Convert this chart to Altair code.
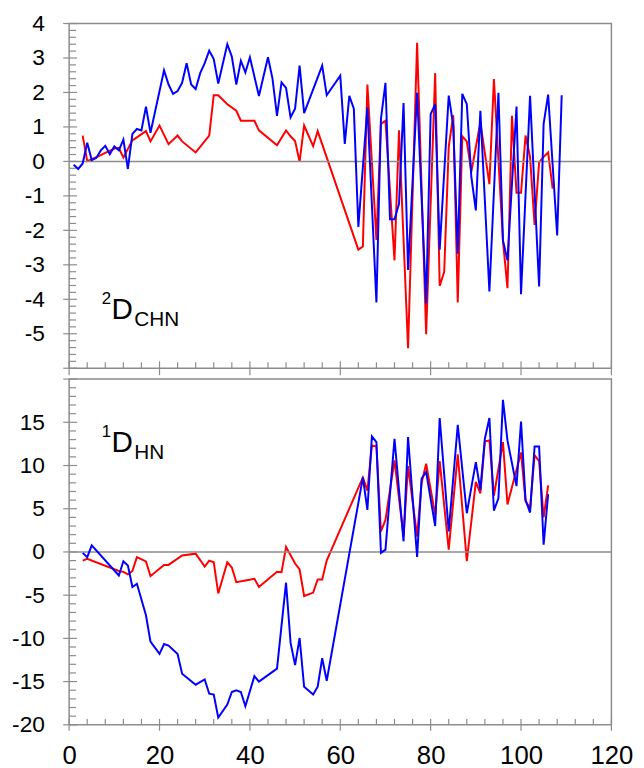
import altair as alt
import pandas as pd

# ---------------- data ----------------
top_blue_x = [1, 2, 3, 4, 5, 6, 7, 8, 9, 10, 11, 12, 13, 14, 15, 16, 17, 18, 21, 22, 23, 24, 25, 26, 27, 28, 29,
              30, 31, 32, 33, 35, 36, 37, 38, 39, 40, 42, 44, 45, 46, 47, 48, 49, 50, 51, 52, 56, 57, 60, 61, 62,
              63, 64, 66, 68, 69, 70, 71, 72, 73, 74, 75, 77, 79, 80, 81, 82, 84, 85, 86, 87, 88, 89, 90, 91, 93,
              95, 96, 97, 99, 100, 102, 104, 105, 106, 108, 109]
top_blue_y = [-0.10, -0.22, -0.06, 0.54, 0.04, 0.10, 0.32, 0.45, 0.21, 0.44, 0.32, 0.63, -0.22, 0.80, 0.94, 0.90,
              1.59, 0.83, 2.64, 2.23, 1.96, 2.04, 2.28, 2.85, 2.23, 2.10, 2.56, 2.85, 3.21, 2.97, 2.26, 3.40, 3.04,
              2.23, 2.92, 2.58, 3.02, 1.90, 3.02, 2.40, 1.32, 2.29, 2.13, 1.28, 1.53, 2.78, 1.40, 2.78, 1.92, 2.49,
              0.51, 1.90, 1.53, -1.90, 1.56, -4.09, 1.23, 2.28, -1.68, -1.68, -1.23, 1.69, -3.15, 1.99, -4.12, 1.37,
              1.66, -2.56, 1.91, 1.04, -2.68, 1.96, 1.66, -0.44, -1.42, 1.47, -3.77, 1.99, -2.29, -2.87, 1.59,
              -3.85, 1.90, -3.63, 1.09, 1.94, -2.15, 1.92]

top_red_x = [3, 4, 6, 8, 10, 11, 12, 14, 17, 18, 20, 22, 24, 25, 28, 31, 32, 33, 35, 37, 38, 41, 42, 46, 48, 49,
             50, 51, 52, 54, 55, 64, 65, 66, 68, 69, 70, 72, 73, 75, 77, 79, 81, 82, 83, 84, 85, 86, 87, 88, 89,
             91, 93, 94, 96, 97, 98, 99, 100, 101, 102, 103, 104, 105, 106, 107]
top_red_y = [0.75, 0.01, 0.12, 0.25, 0.37, 0.39, 0.11, 0.61, 0.88, 0.58, 1.04, 0.50, 0.75, 0.58, 0.26, 0.75, 1.92,
             1.92, 1.66, 1.47, 1.18, 1.18, 0.90, 0.47, 0.90, 0.73, 0.59, -0.01, 1.04, 0.44, 0.88, -2.56, -2.47,
             2.23, -2.28, 1.09, 1.18, -2.87, 0.90, -5.42, 3.44, -5.01, 2.56, -3.61, -3.20, 0.42, 1.34, -4.09, 0.73,
             0.58, -0.30, 1.13, -0.66, 2.39, -2.30, -3.68, 1.32, -0.91, -0.91, 0.75, 0.13, -1.84, -0.03, 0.13,
             0.26, -0.79]

bot_blue_x = [3, 4, 5, 11, 12, 13, 14, 15, 17, 18, 20, 21, 22, 24, 25, 28, 30, 31, 32, 33, 35, 36, 37, 38, 39,
              41, 42, 46, 48, 49, 50, 51, 52, 54, 55, 56, 57, 65, 66, 67, 68, 69, 70, 72, 74, 75, 77, 78, 79, 81,
              82, 84, 86, 88, 90, 91, 92, 93, 94, 95, 96, 97, 99, 100, 101, 102, 103, 104, 105, 106]
bot_blue_y = [-0.11, -0.61, 0.77, -2.72, -1.07, -1.57, -4.06, -3.68, -7.32, -10.38, -11.80, -10.65, -10.84,
              -11.80, -14.10, -15.36, -14.75, -16.40, -16.50, -19.16, -17.67, -16.20, -16.00, -16.20, -17.85,
              -14.37, -15.00, -13.50, -3.56, -10.50, -13.10, -9.96, -15.60, -16.50, -15.60, -12.30, -14.90, 8.62,
              4.86, 13.37, 12.70, -0.11, 0.27, 13.10, 1.23, 13.30, -0.57, 8.50, 9.27, 3.00, 15.50, 2.38, 14.70,
              4.48, 10.40, 7.16, 13.10, 15.50, 4.79, 6.20, 17.60, 12.90, 7.62, 15.10, 6.00, 4.56, 12.20, 12.20,
              0.84, 6.70]

bot_red_x = [3, 4, 11, 12, 13, 14, 15, 17, 18, 21, 22, 25, 28, 30, 31, 32, 33, 35, 36, 37, 39, 41, 42, 46, 47,
             48, 50, 51, 52, 54, 55, 56, 57, 65, 66, 67, 68, 69, 70, 72, 74, 75, 77, 78, 79, 81, 82, 84, 86, 88,
             90, 91, 92, 93, 94, 96, 97, 99, 100, 101, 102, 103, 104, 105, 106]
bot_red_y = [-1.00, -0.80, -2.20, -2.30, -2.60, -2.20, -0.60, -1.10, -2.80, -1.50, -1.50, -0.40, -0.20, -1.70,
             -1.00, -1.20, -4.80, -1.20, -1.80, -3.50, -3.30, -3.10, -4.06, -2.30, -2.34, 0.57, -1.34, -2.03,
             -5.10, -4.70, -3.18, -3.18, -1.00, 8.62, 7.09, 12.33, 12.20, 2.38, 3.71, 10.60, 1.80, 9.92, 1.80,
             8.00, 10.20, 4.30, 10.50, 0.27, 11.30, -1.07, 8.10, 6.78, 12.80, 12.90, 6.50, 12.70, 5.50, 9.50,
             11.50, 5.90, 5.06, 11.20, 10.50, 4.00, 7.70]

x_major = [0, 20, 40, 60, 80, 100, 120]
x_minor = [v for v in range(0, 121, 4) if v % 20]
top_y_labels = [-5, -4, -3, -2, -1, 0, 1, 2, 3, 4]
top_y_major = [-6, -5, -4, -3, -2, -1, 0, 1, 2, 3, 4]
top_y_minor = [round(-6 + 0.2 * i, 1) for i in range(51) if i % 5]
bot_y_labels = [-20, -15, -10, -5, 0, 5, 10, 15]
bot_y_major = [-20, -15, -10, -5, 0, 5, 10, 15, 20]
bot_y_minor = [v for v in range(-20, 21) if v % 5]

# ---------------- styling ----------------
W = 549
H_TOP = 349
H_BOT = 350
FRAME = "#8c8c8c"
FONT = "Liberation Sans"


def df(xs, ys):
    return pd.DataFrame({"res": xs, "val": ys})


def panel(red, blue, ydom, ylabels, ymaj, ymin, height, bottom, sup, main, sub, lab_x, lab_y):
    xs = alt.Scale(domain=[0, 120], nice=False, zero=False)
    ys = alt.Scale(domain=ydom, nice=False, zero=False)
    if bottom:
        xaxis = alt.Axis(values=x_major, ticks=False, domain=False, grid=False, title=None,
                         labelFontSize=26, labelPadding=18, labelFlush=False, labelFont=FONT,
                         labelOverlap=False, labelBound=False, labelColor="black",
                         labelExpr="'' + datum.value")
    else:
        xaxis = None
    yaxis = alt.Axis(values=ylabels, ticks=False, domain=False, grid=False, title=None,
                     labelFontSize=23, labelPadding=25, labelFlush=False, labelFont=FONT,
                     labelOverlap=False, labelBound=False, labelColor="black",
                     labelExpr="'' + datum.value", minExtent=69, maxExtent=69)

    X = alt.X("res:Q", scale=xs, axis=xaxis)
    Y = alt.Y("val:Q", scale=ys, axis=yaxis)

    red_line = alt.Chart(df(red[0], red[1])).mark_line(color="#ff0000", strokeWidth=2).encode(x=X, y=Y)
    blue_line = alt.Chart(df(blue[0], blue[1])).mark_line(color="#0000ff", strokeWidth=2).encode(x=X, y=Y)
    zero = alt.Chart(pd.DataFrame({"val": [0]})).mark_rule(color=FRAME, strokeWidth=1.5).encode(y=Y)

    ymaj_r = alt.Chart(pd.DataFrame({"val": ymaj})).mark_rule(color=FRAME, strokeWidth=1.2).encode(
        y=Y, x=alt.value(-6), x2=alt.value(8))
    ymin_r = alt.Chart(pd.DataFrame({"val": ymin})).mark_rule(color=FRAME, strokeWidth=1.2).encode(
        y=Y, x=alt.value(0), x2=alt.value(7))
    if bottom:
        xmaj_r = alt.Chart(pd.DataFrame({"res": x_major})).mark_rule(color=FRAME, strokeWidth=1.2).encode(
            x=X, y=alt.value(height - 6), y2=alt.value(height + 6))
        xmin_r = alt.Chart(pd.DataFrame({"res": x_minor})).mark_rule(color=FRAME, strokeWidth=1.2).encode(
            x=X, y=alt.value(height - 6), y2=alt.value(height))
    else:
        xmaj_r = alt.Chart(pd.DataFrame({"res": x_major})).mark_rule(color=FRAME, strokeWidth=1.2).encode(
            x=X, y=alt.value(height - 7), y2=alt.value(height + 7))
        xmin_r = alt.Chart(pd.DataFrame({"res": x_minor})).mark_rule(color=FRAME, strokeWidth=1.2).encode(
            x=X, y=alt.value(height - 6), y2=alt.value(height))

    t_sup = alt.Chart(pd.DataFrame({"t": [sup]})).mark_text(
        font=FONT, fontSize=17, align="left", baseline="alphabetic", color="black").encode(
        x=alt.value(lab_x), y=alt.value(lab_y - 15), text="t:N")
    t_main = alt.Chart(pd.DataFrame({"t": [main]})).mark_text(
        font=FONT, fontSize=30, align="left", baseline="alphabetic", color="black").encode(
        x=alt.value(lab_x + 10), y=alt.value(lab_y), text="t:N")
    t_sub = alt.Chart(pd.DataFrame({"t": [sub]})).mark_text(
        font=FONT, fontSize=21, align="left", baseline="alphabetic", color="black").encode(
        x=alt.value(lab_x + 33), y=alt.value(lab_y + 7), text="t:N")

    return alt.layer(red_line, zero, ymaj_r, ymin_r, xmaj_r, xmin_r, blue_line, t_sup, t_main, t_sub).properties(
        width=W, height=height)


top = panel((top_red_x, top_red_y), (top_blue_x, top_blue_y), [-6, 4], top_y_labels, top_y_major,
            top_y_minor, H_TOP, False, "2", "D", "CHN", 33, 299)
bottom = panel((bot_red_x, bot_red_y), (bot_blue_x, bot_blue_y), [-20, 20], bot_y_labels, bot_y_major,
               bot_y_minor, H_BOT, True, "1", "D", "HN", 33, 74)

chart = alt.vconcat(top, bottom, spacing=0).properties(
    padding={"left": 0, "top": 7, "right": 10, "bottom": 0}
).configure_view(stroke=FRAME, strokeWidth=1.5).configure_concat(spacing=0).configure_axis(
    labelOverlap=False, labelBound=False)

chart.save("out.html", embed_options={"renderer": "svg", "actions": False})
